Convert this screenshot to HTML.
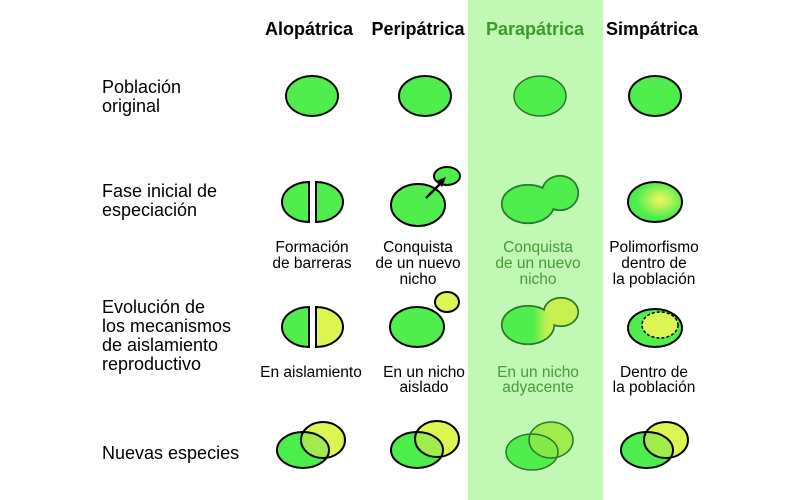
<!DOCTYPE html>
<html><head><meta charset="utf-8"><style>
body{margin:0;width:800px;height:500px;background:#fff;overflow:hidden}
svg{display:block}
text{font-family:"Liberation Sans",sans-serif}
</style></head><body>
<svg width="800" height="500" viewBox="0 0 800 500">
<defs>
<radialGradient id="hl" cx="0.6" cy="0.45" r="0.45">
<stop offset="0" stop-color="#eef864"/><stop offset="0.35" stop-color="#c0f25a"/><stop offset="1" stop-color="#4cee4c"/>
</radialGradient>
<linearGradient id="pg" x1="0" y1="0" x2="1" y2="0">
<stop offset="0" stop-color="#50ee4c"/><stop offset="0.6" stop-color="#50ee4c"/><stop offset="0.85" stop-color="#b8f050"/><stop offset="1" stop-color="#c8f050"/>
</linearGradient>
<clipPath id="c1"><ellipse cx="323" cy="440" rx="22" ry="18"/></clipPath>
<clipPath id="c2"><ellipse cx="437" cy="439" rx="22" ry="18"/></clipPath>
<clipPath id="c3"><ellipse cx="551" cy="440" rx="22" ry="18"/></clipPath>
<clipPath id="c4"><ellipse cx="666" cy="440" rx="22" ry="18"/></clipPath>
</defs>
<rect x="468" y="0" width="135" height="500" fill="#c0f8b4"/>
<g font-size="18" font-weight="bold" text-anchor="middle">
<text x="309" y="35">Alopátrica</text>
<text x="418" y="35">Peripátrica</text>
<text x="535" y="35" fill="#3a9a2a">Parapátrica</text>
<text x="652" y="35">Simpátrica</text>
</g>
<g font-size="18">
<text x="102" y="93">Población</text><text x="102" y="112">original</text>
<text x="102" y="197">Fase inicial de</text><text x="102" y="216">especiación</text>
<text x="102" y="313">Evolución de</text><text x="102" y="332">los mecanismos</text><text x="102" y="351">de aislamiento</text><text x="102" y="370">reproductivo</text>
<text x="102" y="459">Nuevas especies</text>
</g>
<g font-size="15.5" text-anchor="middle">
<text x="312" y="252">Formación</text><text x="312" y="268">de barreras</text>
<text x="418" y="252">Conquista</text><text x="418" y="268">de un nuevo</text><text x="418" y="284">nicho</text>
<g fill="#4a9a3a"><text x="538" y="252">Conquista</text><text x="538" y="268">de un nuevo</text><text x="538" y="284">nicho</text>
<text x="538" y="377">En un nicho</text><text x="538" y="392">adyacente</text></g>
<text x="654" y="252">Polimorfismo</text><text x="654" y="268">dentro de</text><text x="654" y="284">la población</text>
<text x="311" y="377">En aislamiento</text>
<text x="424" y="377">En un nicho</text><text x="424" y="392">aislado</text>
<text x="654" y="377">Dentro de</text><text x="654" y="392">la población</text>
</g>
<g stroke="#000" stroke-width="2" fill="#50ee4c">
<ellipse cx="312" cy="96" rx="26" ry="20"/>
<ellipse cx="425" cy="96" rx="26" ry="20"/>
<ellipse cx="655" cy="96" rx="26" ry="20"/>
<ellipse cx="540" cy="96" rx="26" ry="20" stroke="#2a7a2a" stroke-width="1.5"/>
<path d="M309 182 A27 20 0 0 0 309 222 Z"/>
<path d="M316 182 A27 20 0 0 1 316 222 Z"/>
<ellipse cx="447" cy="176" rx="13" ry="9"/>
<ellipse cx="418" cy="205" rx="27" ry="21"/>
<ellipse cx="655" cy="202" rx="27" ry="20" fill="url(#hl)"/>
<path d="M309 307 A27 20 0 0 0 309 347 Z"/>
<path d="M316 307 A27 20 0 0 1 316 347 Z" fill="#dcf552"/>
<ellipse cx="447" cy="302" rx="12" ry="10" fill="#dcf552"/>
<ellipse cx="417" cy="327" rx="27" ry="20"/>
<ellipse cx="655" cy="328" rx="27" ry="19"/>
<ellipse cx="660" cy="325" rx="18" ry="13" fill="#dcf552" stroke-dasharray="3 2" stroke-width="1.5"/>
</g>
<g stroke="#000" stroke-width="2.5"><line x1="426" y1="198" x2="442" y2="182"/></g>
<polygon points="446,177 436,181 442,187" fill="#000"/>
<g stroke="#2a7a2a" stroke-width="2.2" fill="none">
<ellipse cx="560" cy="193" rx="18" ry="17"/>
<ellipse cx="528" cy="204" rx="26" ry="19"/>
<ellipse cx="561" cy="312" rx="17" ry="14"/>
<ellipse cx="528" cy="325" rx="26" ry="19"/>
</g>
<g stroke="none">
<ellipse cx="560" cy="193" rx="17.4" ry="16.4" fill="#50ee4c"/>
<ellipse cx="528" cy="204" rx="25.4" ry="18.4" fill="#50ee4c"/>
<ellipse cx="561" cy="312" rx="16.4" ry="13.4" fill="#c8f050"/>
<ellipse cx="528" cy="325" rx="25.4" ry="18.4" fill="url(#pg)"/>
</g>
<g stroke-width="2">
<ellipse cx="323" cy="440" rx="22" ry="18" fill="#dcf552"/>
<ellipse cx="303" cy="450" rx="26" ry="18" fill="#4cee4c"/>
<ellipse cx="303" cy="450" rx="26" ry="18" fill="#a0ec4a" clip-path="url(#c1)"/>
<ellipse cx="323" cy="440" rx="22" ry="18" fill="none" stroke="#000"/>
<ellipse cx="303" cy="450" rx="26" ry="18" fill="none" stroke="#000"/>

<ellipse cx="437" cy="439" rx="22" ry="18" fill="#dcf552"/>
<ellipse cx="417" cy="450" rx="26" ry="18" fill="#4cee4c"/>
<ellipse cx="417" cy="450" rx="26" ry="18" fill="#a0ec4a" clip-path="url(#c2)"/>
<ellipse cx="437" cy="439" rx="22" ry="18" fill="none" stroke="#000"/>
<ellipse cx="417" cy="450" rx="26" ry="18" fill="none" stroke="#000"/>

<ellipse cx="551" cy="440" rx="22" ry="18" fill="#a0ec4a"/>
<ellipse cx="532" cy="452" rx="26" ry="18" fill="#50ee4c"/>
<ellipse cx="532" cy="452" rx="26" ry="18" fill="#84ea48" clip-path="url(#c3)"/>
<ellipse cx="551" cy="440" rx="22" ry="18" fill="none" stroke="#2a7a2a" stroke-width="1.5"/>
<ellipse cx="532" cy="452" rx="26" ry="18" fill="none" stroke="#2a7a2a" stroke-width="1.5"/>

<ellipse cx="666" cy="440" rx="22" ry="18" fill="#dcf552"/>
<ellipse cx="647" cy="450" rx="26" ry="18" fill="#4cee4c"/>
<ellipse cx="647" cy="450" rx="26" ry="18" fill="#a0ec4a" clip-path="url(#c4)"/>
<ellipse cx="666" cy="440" rx="22" ry="18" fill="none" stroke="#000"/>
<ellipse cx="647" cy="450" rx="26" ry="18" fill="none" stroke="#000"/>
</g>
</svg>
</body></html>
